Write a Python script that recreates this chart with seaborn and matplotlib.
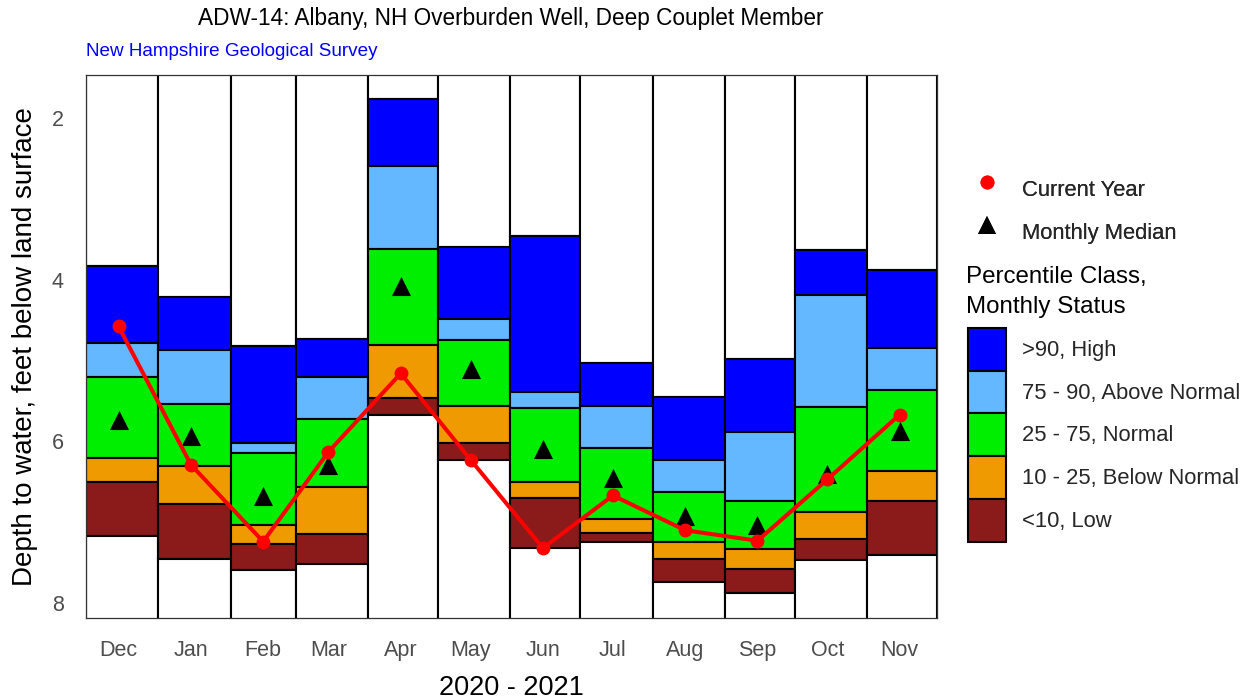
import numpy as np
import pandas as pd
import matplotlib
matplotlib.use("Agg")
import matplotlib.pyplot as plt
import matplotlib.dates as mdates
from matplotlib.patches import Patch
from matplotlib.lines import Line2D
import seaborn as sns

# ---------------- data ----------------
months = ["Dec", "Jan", "Feb", "Mar", "Apr", "May", "Jun", "Jul", "Aug", "Sep", "Oct", "Nov"]
high_top = [3.83, 4.21, 4.82, 4.73, 1.77, 3.60, 3.46, 5.03, 5.45, 4.98, 3.63, 3.88]
p90 = [4.79, 4.87, 6.02, 5.21, 2.60, 4.49, 5.39, 5.56, 6.23, 5.88, 4.19, 4.85]
p75 = [5.21, 5.54, 6.15, 5.73, 3.62, 4.75, 5.59, 6.08, 6.63, 6.74, 5.57, 5.36]
p25 = [6.21, 6.30, 7.03, 6.57, 4.81, 5.56, 6.50, 6.96, 7.25, 7.33, 6.87, 6.37]
p10 = [6.50, 6.77, 7.27, 7.15, 5.46, 6.02, 6.70, 7.13, 7.45, 7.58, 7.21, 6.74]
low_bottom = [7.17, 7.45, 7.59, 7.52, 5.67, 6.23, 7.32, 7.24, 7.74, 7.88, 7.47, 7.41]
median = [5.74, 5.93, 6.68, 6.29, 4.08, 5.11, 6.10, 6.45, 6.92, 7.04, 6.40, 5.87]
current = [4.58, 6.29, 7.24, 6.13, 5.16, 6.23, 7.32, 6.67, 7.10, 7.23, 6.47, 5.67]

class_labels = [">90, High", "75 - 90, Above Normal", "25 - 75, Normal",
                "10 - 25, Below Normal", "<10, Low"]
class_colors = ["#0000FF", "#63B8FF", "#00EE00", "#EE9A00", "#8B1A1A"]

YTOP, YBOT = 1.47, 8.185

# ---------------- style ----------------
sns.set_theme(style="white")
plt.rcParams["font.family"] = ["Liberation Sans", "DejaVu Sans"]

fig = plt.figure(figsize=(12.51, 7.0), dpi=100)
ax = fig.add_axes([86 / 1251, 1 - 618 / 700, (937 - 86) / 1251, (618 - 75) / 700])

starts = pd.date_range("2020-12-01", periods=13, freq="MS")
x0 = mdates.date2num(starts[:-1].to_pydatetime())
x1 = mdates.date2num(starts[1:].to_pydatetime())
widths = x1 - x0
mid = mdates.date2num((starts[:-1] + pd.Timedelta(days=14)).to_pydatetime())

bounds = [high_top, p90, p75, p25, p10, low_bottom]
edge_kw = dict(edgecolor="black", linewidth=1.5, align="edge")
for i in range(12):
    # white upper range
    ax.bar(x0[i], high_top[i] - (YTOP - 0.5), width=widths[i], bottom=YTOP - 0.5,
           color="white", **edge_kw)
    for k in range(5):
        top = bounds[k][i]
        bot = bounds[k + 1][i]
        ax.bar(x0[i], bot - top, width=widths[i], bottom=top,
               color=class_colors[k], **edge_kw)
    # white lower range
    ax.bar(x0[i], YBOT + 0.5 - low_bottom[i], width=widths[i], bottom=low_bottom[i],
           color="white", **edge_kw)

df = pd.DataFrame({"x": mid, "current": current, "median": median})
sns.scatterplot(data=df, x="x", y="median", marker="^", s=190, color="black",
                linewidth=0, ax=ax, zorder=5)
sns.lineplot(data=df, x="x", y="current", color="#FF0000", linewidth=2.9,
             marker="o", markersize=10, markeredgewidth=0, ax=ax, zorder=6)

ax.set_xlim(x0[0], x1[-1])
ax.set_ylim(YBOT, YTOP)
ax.set_xticks(mid)
ax.set_xticklabels(months)
ax.set_yticks([2, 4, 6, 8])
ax.tick_params(axis="both", length=0, labelsize=15.5, labelcolor="#4D4D4D")
ax.tick_params(axis="x", pad=16)
ax.tick_params(axis="y", pad=16)
ax.set_xlabel("2020 - 2021", fontsize=19.5, color="black", labelpad=10)
ax.set_ylabel("Depth to water, feet below land surface", fontsize=20,
              color="black", labelpad=10)
for sp in ax.spines.values():
    sp.set_color("#333333")
    sp.set_linewidth(0.9)
    sp.set_zorder(10)

fig.text(511 / 1251, 1 - 18 / 700, "ADW-14: Albany, NH Overburden Well, Deep Couplet Member",
         ha="center", va="center", fontsize=16.3, color="black")
fig.text(86 / 1251, 1 - 51 / 700, "New Hampshire Geological Survey",
         ha="left", va="center", fontsize=13.6, color="#0000FF")

# ---------------- legends ----------------
pt_handles = [
    Line2D([], [], marker="o", linestyle="none", color="#FF0000", markersize=10,
           markeredgewidth=0),
    Line2D([], [], marker="^", linestyle="none", color="black", markersize=13,
           markeredgewidth=0),
]
leg1 = fig.legend(pt_handles, ["Current Year", "Monthly Median"], loc="upper left",
                  bbox_to_anchor=(968 / 1251, 1 - 168 / 700), frameon=False,
                  fontsize=15.8, handlelength=1.72, handleheight=2.62,
                  labelspacing=0.0, handletextpad=0.75, borderpad=0, borderaxespad=0)

fig.text(966 / 1251, 1 - 277 / 700, "Percentile Class,", ha="left", va="center",
         fontsize=17.4, color="black")
fig.text(966 / 1251, 1 - 307 / 700, "Monthly Status", ha="left", va="center",
         fontsize=17.4, color="black")

patch_handles = [Patch(facecolor=c, edgecolor="black", linewidth=1.5) for c in class_colors]
leg2 = fig.legend(patch_handles, class_labels, loc="upper left",
                  bbox_to_anchor=(968 / 1251, 1 - 328 / 700), frameon=False,
                  fontsize=15.8, handlelength=1.72, handleheight=2.62,
                  labelspacing=0.0, handletextpad=0.75, borderpad=0, borderaxespad=0)
fig.add_artist(leg1)

fig.savefig("out.png", dpi=100)
